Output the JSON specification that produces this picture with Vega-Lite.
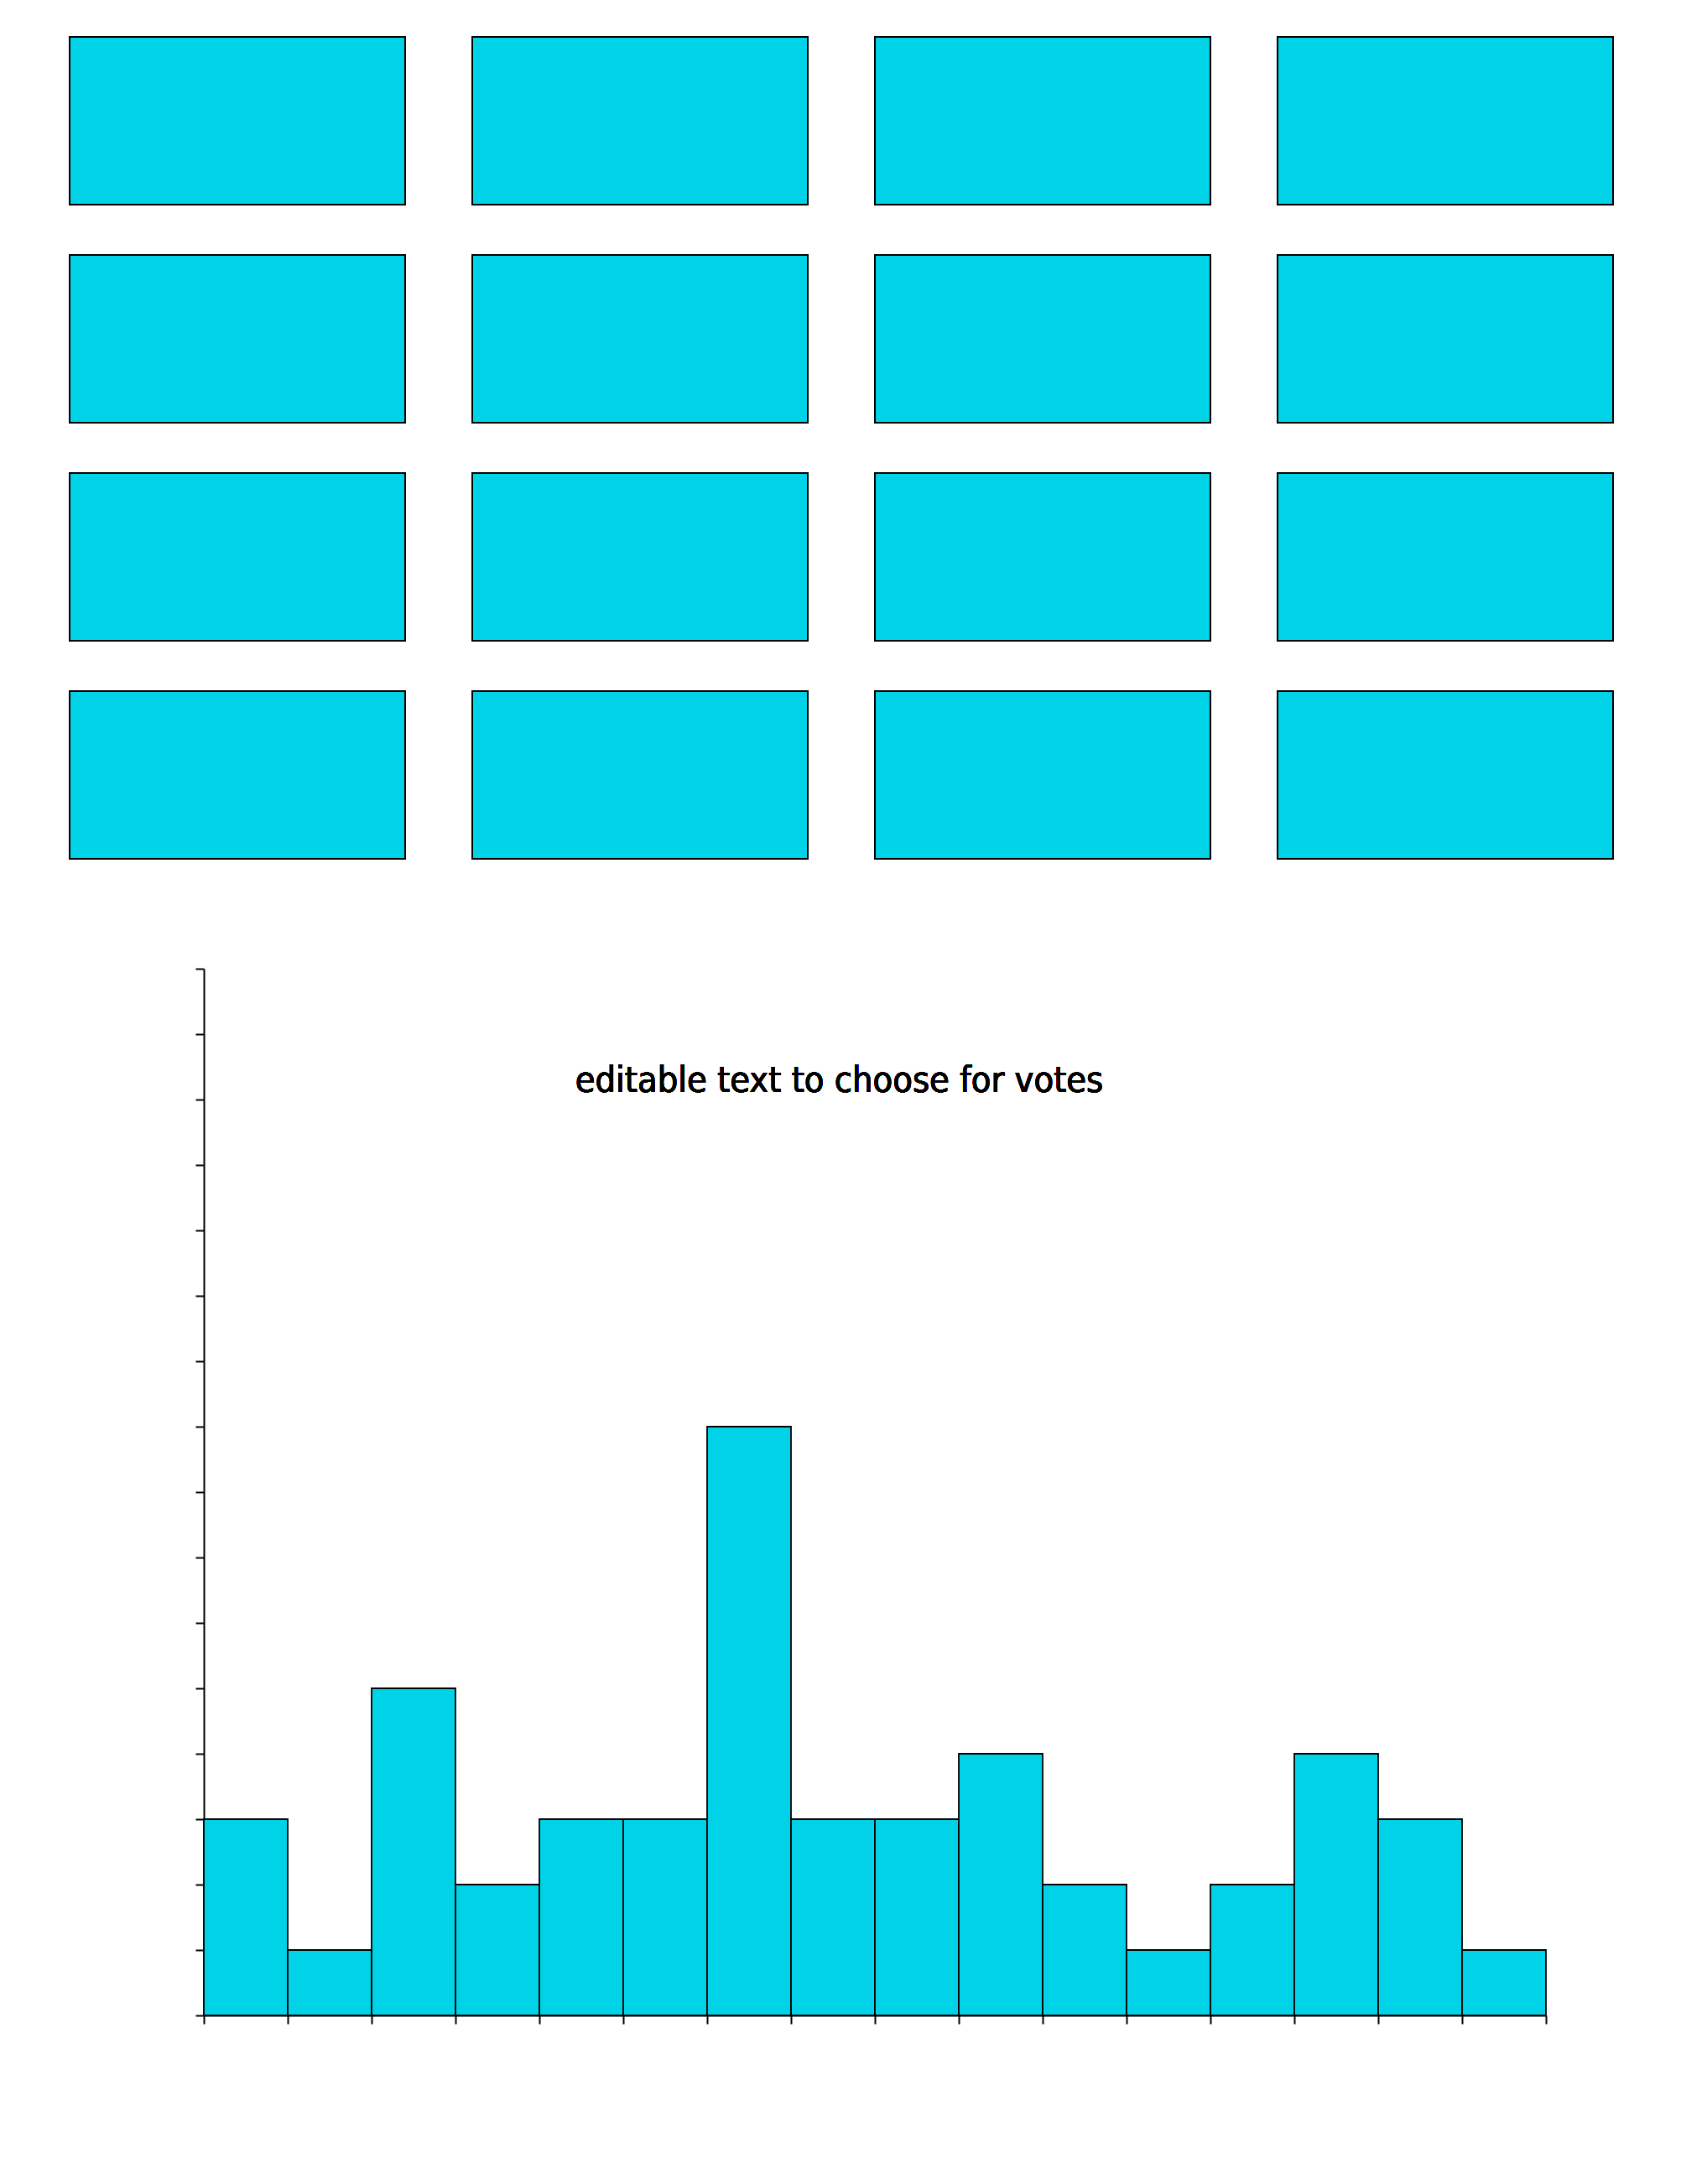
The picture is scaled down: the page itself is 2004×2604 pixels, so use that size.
{
  "$schema": "https://vega.github.io/schema/vega-lite/v6.json",
  "background": "white",
  "padding": {"left": 82, "top": 42, "right": 0, "bottom": 0},
  "config": {
    "view": {"stroke": null},
    "axis": {
      "labels": false,
      "title": null,
      "grid": false,
      "ticks": true,
      "tickSize": 10,
      "tickColor": "black",
      "tickWidth": 2,
      "domainColor": "black",
      "domainWidth": 2
    }
  },
  "bounds": "flush",
  "spacing": 131,
  "vconcat": [
    {
      "width": 1840,
      "height": 980,
      "data": {
        "values": [
          {"row": 1, "col": 1}, {"row": 1, "col": 2}, {"row": 1, "col": 3}, {"row": 1, "col": 4},
          {"row": 2, "col": 1}, {"row": 2, "col": 2}, {"row": 2, "col": 3}, {"row": 2, "col": 4},
          {"row": 3, "col": 1}, {"row": 3, "col": 2}, {"row": 3, "col": 3}, {"row": 3, "col": 4},
          {"row": 4, "col": 1}, {"row": 4, "col": 2}, {"row": 4, "col": 3}, {"row": 4, "col": 4}
        ]
      },
      "mark": {"type": "rect", "fill": "#00D2E8", "stroke": "black", "strokeWidth": 2},
      "encoding": {
        "x": {"field": "col", "type": "ordinal", "axis": null, "scale": {"paddingInner": 0.16667, "paddingOuter": 0}},
        "y": {"field": "row", "type": "ordinal", "axis": null, "scale": {"paddingInner": 0.23077, "paddingOuter": 0}}
      }
    },
    {
      "bounds": "flush",
      "spacing": 0,
      "hconcat": [
        {
          "width": 160,
          "height": 10,
          "data": {"values": []},
          "mark": {"type": "point", "opacity": 0}
        },
        {
          "width": 1600,
          "height": 1248,
          "data": {
            "values": [
              {"option": 1, "start": 0, "end": 1, "votes": 3},
              {"option": 2, "start": 1, "end": 2, "votes": 1},
              {"option": 3, "start": 2, "end": 3, "votes": 5},
              {"option": 4, "start": 3, "end": 4, "votes": 2},
              {"option": 5, "start": 4, "end": 5, "votes": 3},
              {"option": 6, "start": 5, "end": 6, "votes": 3},
              {"option": 7, "start": 6, "end": 7, "votes": 9},
              {"option": 8, "start": 7, "end": 8, "votes": 3},
              {"option": 9, "start": 8, "end": 9, "votes": 3},
              {"option": 10, "start": 9, "end": 10, "votes": 4},
              {"option": 11, "start": 10, "end": 11, "votes": 2},
              {"option": 12, "start": 11, "end": 12, "votes": 1},
              {"option": 13, "start": 12, "end": 13, "votes": 2},
              {"option": 14, "start": 13, "end": 14, "votes": 4},
              {"option": 15, "start": 14, "end": 15, "votes": 3},
              {"option": 16, "start": 15, "end": 16, "votes": 1}
            ]
          },
          "layer": [
            {
              "mark": {"type": "rect", "fill": "#00D2E8", "stroke": "black", "strokeWidth": 1.8},
              "encoding": {
                "x": {"field": "start", "type": "quantitative", "scale": {"domain": [0, 16], "nice": false, "zero": false},
                      "axis": {"values": [0,1,2,3,4,5,6,7,8,9,10,11,12,13,14,15,16]}},
                "x2": {"field": "end"},
                "y": {"field": "votes", "type": "quantitative", "scale": {"domain": [0, 16], "nice": false},
                      "axis": {"values": [0,1,2,3,4,5,6,7,8,9,10,11,12,13,14,15,16]}},
                "y2": {"datum": 0}
              }
            },
            {
              "mark": {"type": "text", "font": "Liberation Sans Narrow, DejaVu Sans Condensed, Liberation Sans", "fontSize": 43, "align": "center", "baseline": "alphabetic", "color": "black"},
              "encoding": {
                "x": {"datum": 7.575, "type": "quantitative"},
                "y": {"datum": 14.12, "type": "quantitative"},
                "text": {"value": "editable text to choose for votes"}
              }
            }
          ]
        }
      ]
    }
  ]
}
